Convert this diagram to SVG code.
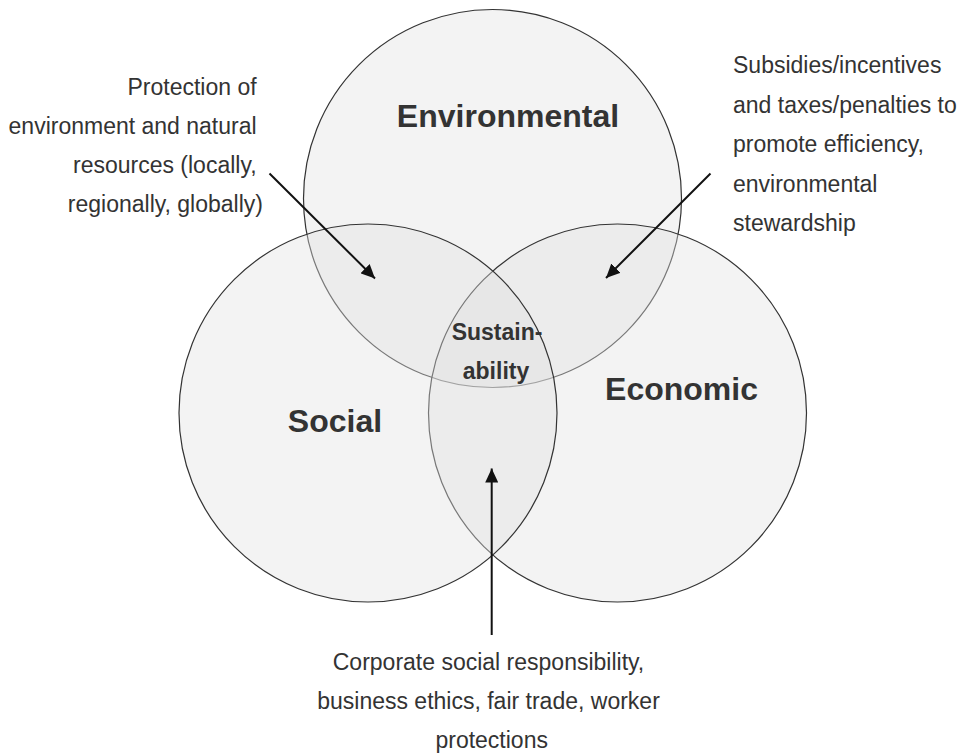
<svg xmlns="http://www.w3.org/2000/svg" width="963" height="754" viewBox="0 0 963 754">
  <style>
    .circle { fill: #e0e0e0; fill-opacity: 0.4; stroke: #333; stroke-width: 1.2; }
    .title { font-family: "Liberation Sans", Arial, sans-serif; font-weight: bold; font-size: 32px; fill: #333; text-anchor: middle; }
    .center { font-family: "Liberation Sans", Arial, sans-serif; font-weight: bold; font-size: 23px; fill: #333; text-anchor: middle; }
    .note { font-family: "Liberation Sans", Arial, sans-serif; font-size: 23px; fill: #333; }
    .arrow { stroke: #111; stroke-width: 2; fill: none; marker-end: url(#head); }
  </style>
  <defs>
    <marker id="head" markerUnits="userSpaceOnUse" markerWidth="15" markerHeight="13" refX="14" refY="6.5" orient="auto">
      <path d="M0,0 L14,6.5 L0,13 z" fill="#111"/>
    </marker>
  </defs>
  <rect width="963" height="754" fill="#fff"/>
  <g id="environmental">
    <circle class="circle" cx="492.5" cy="198.5" r="189"/>
    <text class="title" x="508" y="127">Environmental</text>
  </g>
  <g id="economic">
    <circle class="circle" cx="617.5" cy="413" r="189"/>
    <text class="title" x="681.5" y="400">Economic</text>
  </g>
  <g id="social">
    <circle class="circle" cx="368" cy="413" r="189"/>
    <text class="title" x="335" y="431.5">Social</text>
  </g>
  <g id="sustainability">
    <text class="center" x="497" y="339.5">Sustain-</text>
    <text class="center" x="496" y="379">ability</text>
  </g>
  <g id="note-env-social">
    <text class="note" text-anchor="end">
      <tspan x="263" y="95">Protection of</tspan>
      <tspan x="263" y="134">environment and natural</tspan>
      <tspan x="263" y="173">resources (locally,</tspan>
      <tspan x="263" y="212">regionally, globally)</tspan>
    </text>
  </g>
  <g id="note-env-econ">
    <text class="note">
      <tspan x="733" y="73">Subsidies/incentives</tspan>
      <tspan x="733" y="112.5">and taxes/penalties to</tspan>
      <tspan x="733" y="152">promote efficiency,</tspan>
      <tspan x="733" y="191.5">environmental</tspan>
      <tspan x="733" y="231">stewardship</tspan>
    </text>
  </g>
  <g id="note-social-econ">
    <text class="note" text-anchor="middle">
      <tspan x="491.7" y="670">Corporate social responsibility,</tspan>
      <tspan x="491.7" y="709">business ethics, fair trade, worker</tspan>
      <tspan x="491.7" y="747.5">protections</tspan>
    </text>
  </g>
  <g id="connectors">
    <line class="arrow" x1="269.5" y1="173.5" x2="375" y2="278.5"/>
    <line class="arrow" x1="710.5" y1="173.5" x2="606" y2="278"/>
    <line class="arrow" x1="491.7" y1="635" x2="491.7" y2="468.5"/>
  </g>
</svg>
